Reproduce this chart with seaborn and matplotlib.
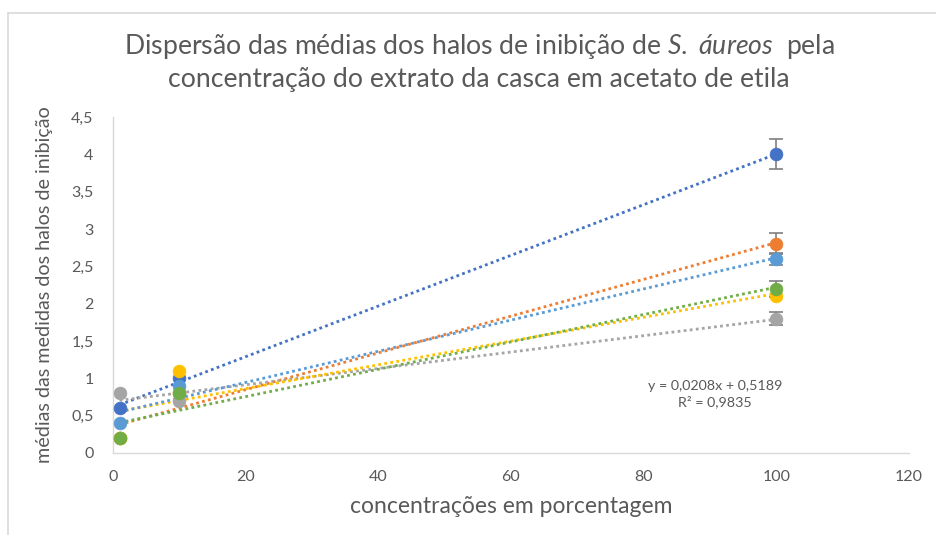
import numpy as np
import pandas as pd
import matplotlib
matplotlib.use("Agg")
import matplotlib.pyplot as plt
from matplotlib.ticker import FuncFormatter, MultipleLocator
from matplotlib.lines import Line2D
import seaborn as sns

# ---- data ----
concentrations = [1, 10, 100]
serie_azul = [0.6, 1.0, 4.0]
serie_laranja = [0.2, 0.8, 2.8]
serie_cinza = [0.8, 0.7, 1.8]
serie_amarela = [0.2, 1.1, 2.1]
serie_azul_claro = [0.4, 0.9, 2.6]
serie_verde = [0.2, 0.8, 2.2]

erro_azul = [0, 0, 0.2]
erro_laranja = [0, 0, 0.14]
erro_cinza = [0, 0, 0.09]
erro_amarela = [0, 0, 0.0]
erro_azul_claro = [0, 0, 0.08]
erro_verde = [0, 0, 0.11]

series_names = ["azul", "laranja", "cinza", "amarela", "azul claro", "verde"]
series_values = [serie_azul, serie_laranja, serie_cinza, serie_amarela, serie_azul_claro, serie_verde]
series_errors = [erro_azul, erro_laranja, erro_cinza, erro_amarela, erro_azul_claro, erro_verde]
colors = ["#4472C4", "#ED7D31", "#A5A5A5", "#FFC000", "#5B9BD5", "#70AD47"]

title_line1 = "Dispersão das médias dos halos de inibição de $\\mathit{S.\\ áureos}$  pela"
title_line2 = "concentração do extrato da casca em acetato de etila"
x_label = "concentrações em porcentagem"
y_label = "médias das medidas dos halos de inibição"
equation = "y = 0,0208x + 0,5189\nR² = 0,9835"

rows = []
for name, vals, errs in zip(series_names, series_values, series_errors):
    for x, v, e in zip(concentrations, vals, errs):
        rows.append({"serie": name, "conc": x, "media": v, "erro": e})
df = pd.DataFrame(rows)

# ---- style ----
sns.set_theme(style="white")
FONT = "Lato"
plt.rcParams["font.family"] = [FONT, "DejaVu Sans"]
plt.rcParams["mathtext.fontset"] = "custom"
plt.rcParams["mathtext.rm"] = FONT
plt.rcParams["mathtext.it"] = FONT + ":italic"
TXT = "#595959"

fig = plt.figure(figsize=(9.36, 5.35), dpi=100)
ax = fig.add_axes([113 / 936, 1 - 453 / 535, (909 - 113) / 936, (453 - 117) / 535])

# trend lines (linear fits) first
for name, c in zip(series_names, colors):
    sub = df[df.serie == name]
    sns.regplot(data=sub, x="conc", y="media", ax=ax, scatter=False, ci=None,
                truncate=True, color=c,
                line_kws=dict(linestyle=(0, (1, 1.2)), linewidth=2.0, zorder=2))

# error bars and markers
for name, c in zip(series_names, colors):
    sub = df[(df.serie == name) & (df.erro > 0)]
    if len(sub):
        ax.errorbar(sub.conc, sub.media, yerr=sub.erro, fmt="none", ecolor="#7F7F7F",
                    elinewidth=1.2, capsize=5, capthick=1.2, zorder=3)
    sub_all = df[df.serie == name]
    sns.scatterplot(data=sub_all, x="conc", y="media", ax=ax, color=c, s=85,
                    edgecolor=c, linewidth=0.5, zorder=4, legend=False)

ax.set_xlim(0, 120)
ax.set_ylim(0, 4.5)
ax.xaxis.set_major_locator(MultipleLocator(20))
ax.yaxis.set_major_locator(MultipleLocator(0.5))
fmt = FuncFormatter(lambda v, p: ("%g" % v).replace(".", ","))
ax.xaxis.set_major_formatter(fmt)
ax.yaxis.set_major_formatter(fmt)
ax.tick_params(axis="both", length=0, labelsize=11.5, labelcolor=TXT)
ax.tick_params(axis="x", pad=12)
ax.tick_params(axis="y", pad=14)
for s in ["top", "right"]:
    ax.spines[s].set_visible(False)
for s in ["left", "bottom"]:
    ax.spines[s].set_color("#D9D9D9")
    ax.spines[s].set_linewidth(1.0)
ax.set_xlabel(x_label, fontsize=16.5, color=TXT, labelpad=9)
ax.set_ylabel(y_label, fontsize=14.2, color=TXT, labelpad=14)
ax.yaxis.set_label_coords(-0.075, 0.5)
ax.grid(False)

ax.text(0.756, 0.176, equation, transform=ax.transAxes, ha="center",
        va="center", fontsize=10.3, color=TXT, linespacing=1.35)

fig.text(479 / 936, 1 - 47 / 535, title_line1, ha="center", va="center",
         fontsize=19.2, color=TXT)
fig.text(479 / 936, 1 - 79 / 535, title_line2, ha="center", va="center",
         fontsize=19.2, color=TXT)

# chart frame (left and top edges visible)
fig.add_artist(Line2D([8 / 936, 8 / 936], [0, 1 - 13 / 535], transform=fig.transFigure,
                      color="#D9D9D9", linewidth=1.2))
fig.add_artist(Line2D([8 / 936, 1], [1 - 13 / 535, 1 - 13 / 535], transform=fig.transFigure,
                      color="#D9D9D9", linewidth=1.2))

fig.savefig("out.png", dpi=100, facecolor="white")
